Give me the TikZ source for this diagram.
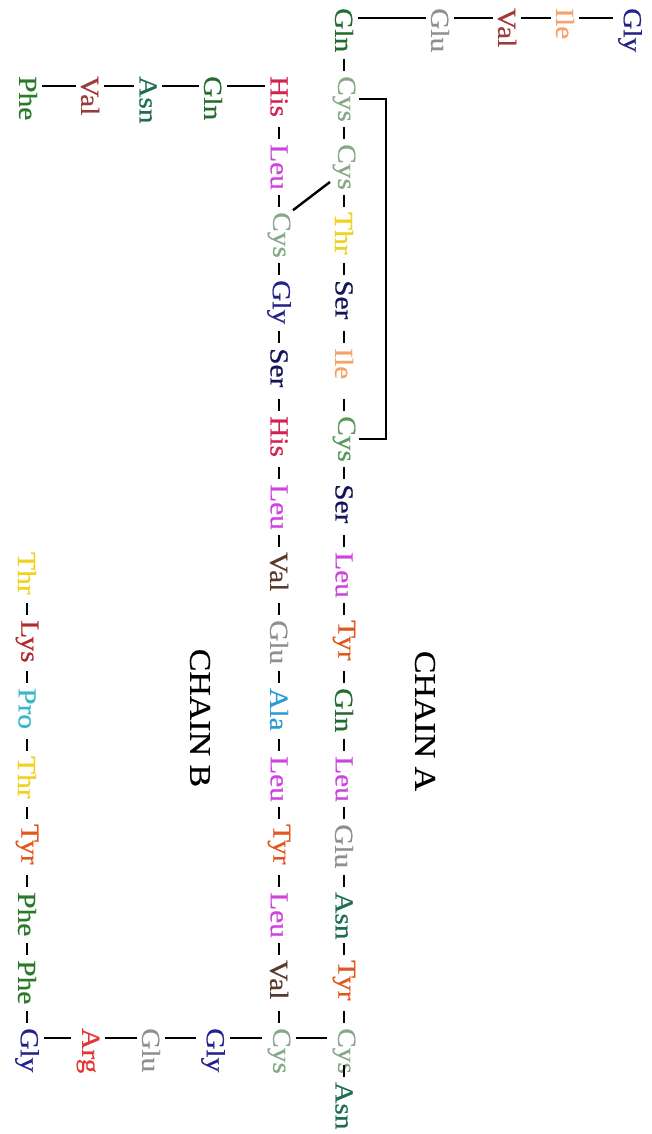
\documentclass[tikz,border=0pt]{standalone}
\usepackage{fontspec}
\newfontfamily\resfont[FakeStretch=1.13, FakeBold=0.6]{Liberation Serif}
\usetikzlibrary{calc}
\definecolor{cGly}{HTML}{22228A}
\definecolor{cIle}{HTML}{F4A46A}
\definecolor{cVal}{HTML}{9E3A3A}
\definecolor{cValB}{HTML}{5A3A2A}
\definecolor{cGlu}{HTML}{8F8F8F}
\definecolor{cGln}{HTML}{236B2E}
\definecolor{cCys}{HTML}{86A886}
\definecolor{cCysG}{HTML}{5A9A5A}
\definecolor{cThr}{HTML}{F2D21E}
\definecolor{cSer}{HTML}{14145A}
\definecolor{cLeu}{HTML}{CC44DD}
\definecolor{cTyr}{HTML}{E2571E}
\definecolor{cAsn}{HTML}{1F6E52}
\definecolor{cHis}{HTML}{D42050}
\definecolor{cAla}{HTML}{2E9AD6}
\definecolor{cLys}{HTML}{B22A2A}
\definecolor{cPro}{HTML}{36B8CC}
\definecolor{cPhe}{HTML}{2A7A2A}
\definecolor{cArg}{HTML}{E53535}
\tikzset{
  res/.style={rotate=-90, anchor=west, inner sep=0pt, font=\resfont\fontsize{26}{26}\selectfont},
  lbl/.style={rotate=-90, inner sep=0pt, font=\resfont\fontsize{30}{30}\selectfont, text=black},
  bond/.style={line width=2.4pt, draw=black},
}
\newcommand\vbond[2]{\draw[bond] ($(#2.west)!5pt!(#1.east)$) -- ($(#2.west)!17pt!(#1.east)$);}
\newcommand\hbond[2]{\draw[bond, shorten <=5pt, shorten >=5pt] ([yshift=-10pt]#1.north west) -- ([yshift=-10pt]#2.south west);}
\begin{document}
\begin{tikzpicture}[x=1pt, y=-1pt]
\useasboundingbox (0,0) rectangle (652,1134);
% chain A
\node[res, text=cGly] (a1) at (630,8) {Gly};
\node[res, text=cIle] (a2) at (565,8) {Ile};
\node[res, text=cVal] (a3) at (507,8) {Val};
\node[res, text=cGlu] (a4) at (440,8) {Glu};
\node[res, text=cGln] (a5) at (344,8) {Gln};
\node[res, text=cCys] (a6) at (344,76) {Cys};
\node[res, text=cCys] (a7) at (344,144) {Cys};
\node[res, text=cThr] (a8) at (344,212) {Thr};
\node[res, text=cSer] (a9) at (344,280) {Ser};
\node[res, text=cIle] (a10) at (344,348) {Ile};
\node[res, text=cCysG] (a11) at (344,416) {Cys};
\node[res, text=cSer] (a12) at (344,484) {Ser};
\node[res, text=cLeu] (a13) at (344,552) {Leu};
\node[res, text=cTyr] (a14) at (344,620) {Tyr};
\node[res, text=cGln] (a15) at (344,688) {Gln};
\node[res, text=cLeu] (a16) at (344,756) {Leu};
\node[res, text=cGlu] (a17) at (344,824) {Glu};
\node[res, text=cAsn] (a18) at (344,892) {Asn};
\node[res, text=cTyr] (a19) at (344,960) {Tyr};
\node[res, text=cCys] (a20) at (344,1028) {Cys};
\node[res, text=cAsn] (a21) at (344,1082) {Asn};
% chain B
\node[res, text=cPhe] (b1) at (28,76) {Phe};
\node[res, text=cVal] (b2) at (90,76) {Val};
\node[res, text=cAsn] (b3) at (148,76) {Asn};
\node[res, text=cGln] (b4) at (213,76) {Gln};
\node[res, text=cHis] (b5) at (279,76) {His};
\node[res, text=cLeu] (b6) at (279,144) {Leu};
\node[res, text=cCys] (b7) at (279,212) {Cys};
\node[res, text=cGly] (b8) at (279,280) {Gly};
\node[res, text=cSer] (b9) at (279,348) {Ser};
\node[res, text=cHis] (b10) at (279,416) {His};
\node[res, text=cLeu] (b11) at (279,484) {Leu};
\node[res, text=cValB] (b12) at (279,552) {Val};
\node[res, text=cGlu] (b13) at (279,620) {Glu};
\node[res, text=cAla] (b14) at (279,688) {Ala};
\node[res, text=cLeu] (b15) at (279,756) {Leu};
\node[res, text=cTyr] (b16) at (279,824) {Tyr};
\node[res, text=cLeu] (b17) at (279,892) {Leu};
\node[res, text=cValB] (b18) at (279,960) {Val};
\node[res, text=cCys] (b19) at (279,1028) {Cys};
\node[res, text=cGly] (b20) at (213,1028) {Gly};
\node[res, text=cGlu] (b21) at (151,1028) {Glu};
\node[res, text=cArg] (b22) at (88,1028) {Arg};
\node[res, text=cGly] (b23) at (27,1028) {Gly};
\node[res, text=cPhe] (b24) at (27,960) {Phe};
\node[res, text=cPhe] (b25) at (27,892) {Phe};
\node[res, text=cTyr] (b26) at (27,824) {Tyr};
\node[res, text=cThr] (b27) at (27,756) {Thr};
\node[res, text=cPro] (b28) at (27,688) {Pro};
\node[res, text=cLys] (b29) at (27,620) {Lys};
\node[res, text=cThr] (b30) at (27,552) {Thr};
% labels
\node[lbl] (chA) at (425,721) {CHAIN A};
\node[lbl] (chB) at (200,718) {CHAIN B};
% bonds: top row
\hbond{a5}{a4}\hbond{a4}{a3}\hbond{a3}{a2}\hbond{a2}{a1}
\foreach \i [evaluate=\i as \j using int(\i+1)] in {5,...,20} {\vbond{a\i}{a\j}}
\hbond{b1}{b2}\hbond{b2}{b3}\hbond{b3}{b4}\hbond{b4}{b5}
\foreach \i [evaluate=\i as \j using int(\i+1)] in {5,...,18} {\vbond{b\i}{b\j}}
\hbond{b19}{a20}\hbond{b20}{b19}\hbond{b21}{b20}\hbond{b22}{b21}\hbond{b23}{b22}
\foreach \i [evaluate=\i as \j using int(\i+1)] in {23,...,29} {\vbond{b\j}{b\i}}
% disulfide bridges
\coordinate (brx) at (386,0);
\draw[bond, shorten <=3pt] (a6.north) -- (a6.north -| brx) -- (a11.north -| brx) -- ([xshift=3pt]a11.north);
\draw[bond, shorten <=3pt, shorten >=3pt] ([yshift=10pt]a7.south east) -- (b7.north west);
\end{tikzpicture}
\end{document}
